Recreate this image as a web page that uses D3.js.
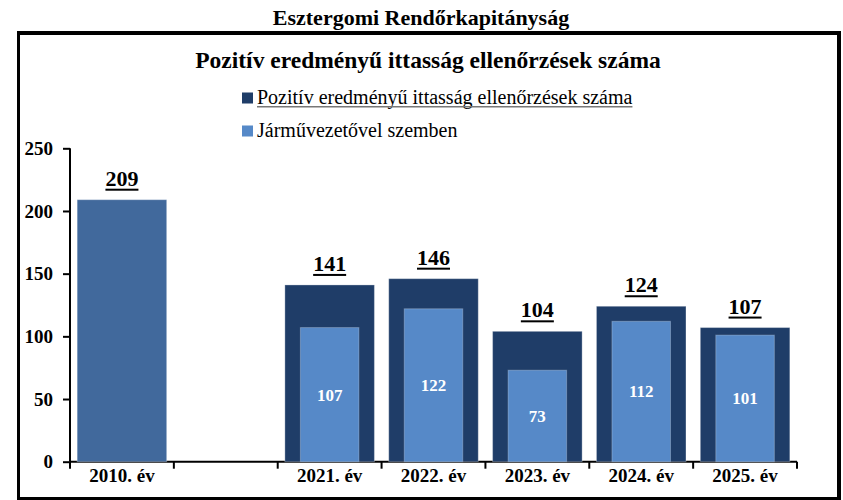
<!DOCTYPE html>
<html>
<head>
<meta charset="utf-8">
<script src="https://cdn.jsdelivr.net/npm/d3@7"></script>
<style>
  html, body { margin: 0; padding: 0; background: #fff; }
  svg { display: block; font-family: "Liberation Serif", "Times New Roman", serif; }
</style>
</head>
<body>
<svg id="chart" width="843" height="500"></svg>
<script>
// ---- data ----
const categories = ["2010. év", "", "2021. év", "2022. év", "2023. év", "2024. év", "2025. év"];
const totalChecks = [209, null, 141, 146, 104, 124, 107];
const withDriver = [null, null, 107, 122, 73, 112, 101];
const yTicks = [0, 50, 100, 150, 200, 250];
const legendLabels = ["Pozitív eredményű ittasság ellenőrzések száma", "Járművezetővel szemben"];
const mainTitle = "Esztergomi Rendőrkapitányság";
const chartTitle = "Pozitív eredményű ittasság ellenőrzések száma";

// ---- styles ----
const colFirst = "#41699C";
const colDark = "#1F3D68";
const colLight = "#5689C8";

const svg = d3.select("#chart");

// frame
svg.append("rect").attr("x", 18.5).attr("y", 33).attr("width", 820.5).attr("height", 465.5)
  .attr("fill", "none").attr("stroke", "#000").attr("stroke-width", 3);
svg.append("line").attr("x1", 839).attr("x2", 839).attr("y1", 31).attr("y2", 500)
  .attr("stroke", "#000").attr("stroke-width", 4);
svg.append("line").attr("x1", 17).attr("x2", 841).attr("y1", 33).attr("y2", 33)
  .attr("stroke", "#000").attr("stroke-width", 4);

// titles
svg.append("text").attr("x", 421).attr("y", 25).attr("text-anchor", "middle")
  .attr("font-size", 22).attr("font-weight", "bold").text(mainTitle);
svg.append("text").attr("x", 428).attr("y", 68).attr("text-anchor", "middle")
  .attr("font-size", 23.5).attr("font-weight", "bold").text(chartTitle);

// scales
const x0 = 70, x1 = 797, yBase = 461.7, yTop = 148.3;
const xAxisScale = d3.scaleBand().domain(d3.range(categories.length)).range([x0, x1]).padding(0);
const xBar = d3.scaleBand().domain(d3.range(categories.length)).range([x0, x1])
  .paddingInner(0.138).paddingOuter(0.069);
const y = d3.scaleLinear().domain([0, 250]).range([yBase, yTop]);

// y axis
const yAxis = d3.axisLeft(y).tickValues(yTicks).tickSize(7).tickPadding(10);
const gy = svg.append("g").attr("transform", `translate(${x0},0)`).call(yAxis);
gy.select(".domain").attr("stroke", "#000").attr("stroke-width", 2).attr("d", `M0,${yBase}V${yTop}`);
gy.selectAll(".tick line").attr("stroke", "#000").attr("stroke-width", 2);
gy.selectAll(".tick text").attr("font-size", 19).attr("font-weight", "bold")
  .attr("font-family", "Liberation Serif, serif").attr("fill", "#000");

// x axis
const boundaries = d3.range(categories.length + 1).map(i => x0 + i * xAxisScale.step());
const gx = svg.append("g");
gx.append("line").attr("x1", x0).attr("x2", x1).attr("y1", yBase).attr("y2", yBase)
  .attr("stroke", "#000").attr("stroke-width", 2);
gx.selectAll("line.tk").data(boundaries).join("line").attr("class", "tk")
  .attr("x1", d => d).attr("x2", d => d).attr("y1", yBase).attr("y2", yBase + 7)
  .attr("stroke", "#000").attr("stroke-width", 2);
gx.selectAll("text").data(categories).join("text")
  .attr("x", (d, i) => xAxisScale(i) + xAxisScale.bandwidth() / 2)
  .attr("y", 482).attr("text-anchor", "middle").attr("font-size", 19).attr("font-weight", "bold")
  .text(d => d);

// bars (total)
const idx = d3.range(categories.length);
const outer = idx.filter(i => totalChecks[i] != null);
svg.append("g").selectAll("rect").data(outer).join("rect")
  .attr("x", i => xBar(i)).attr("width", xBar.bandwidth())
  .attr("y", i => y(totalChecks[i])).attr("height", i => yBase - y(totalChecks[i]))
  .attr("fill", i => i === 0 ? colFirst : colDark)
  .attr("stroke", "rgba(255,255,255,0.3)").attr("stroke-width", 1);

// inner bars
const innerW = xAxisScale.step() * 0.564;
const inner = idx.filter(i => withDriver[i] != null);
svg.append("g").selectAll("rect").data(inner).join("rect")
  .attr("x", i => xAxisScale(i) + (xAxisScale.step() - innerW) / 2).attr("width", innerW)
  .attr("y", i => y(withDriver[i])).attr("height", i => yBase - y(withDriver[i]))
  .attr("fill", colLight).attr("stroke", "rgba(255,255,255,0.25)").attr("stroke-width", 1);

// inner labels
svg.append("g").selectAll("text").data(inner).join("text")
  .attr("x", i => xAxisScale(i) + xAxisScale.step() / 2)
  .attr("y", i => (y(withDriver[i]) + yBase) / 2 + 6)
  .attr("text-anchor", "middle").attr("font-size", 17).attr("font-weight", "bold").attr("fill", "#fff")
  .text(i => withDriver[i]);

// top labels (underlined)
const topG = svg.append("g");
outer.forEach(i => {
  const cx = xAxisScale(i) + xAxisScale.step() / 2;
  const by = y(totalChecks[i]) - 14;
  const t = topG.append("text").attr("x", cx).attr("y", by).attr("text-anchor", "middle")
    .attr("font-size", 22).attr("font-weight", "bold").text(totalChecks[i]);
  const w = t.node().getComputedTextLength();
  topG.append("rect").attr("x", cx - w / 2).attr("y", by + 3).attr("width", w).attr("height", 2).attr("fill", "#000");
});

// legend
const legG = svg.append("g");
legendLabels.forEach((lab, k) => {
  const cy = 98 + k * 33;
  legG.append("rect").attr("x", 242).attr("y", cy - 5.5).attr("width", 11).attr("height", 11)
    .attr("fill", k === 0 ? colDark : colLight);
  const t = legG.append("text").attr("x", 257).attr("y", cy + 6).attr("font-size", 20).attr("fill", "#000").text(lab);
  if (k === 0) {
    const w = t.node().getComputedTextLength();
    legG.append("rect").attr("x", 257).attr("y", cy + 8).attr("width", w).attr("height", 1.5).attr("fill", "#777");
  }
});
</script>
</body>
</html>
